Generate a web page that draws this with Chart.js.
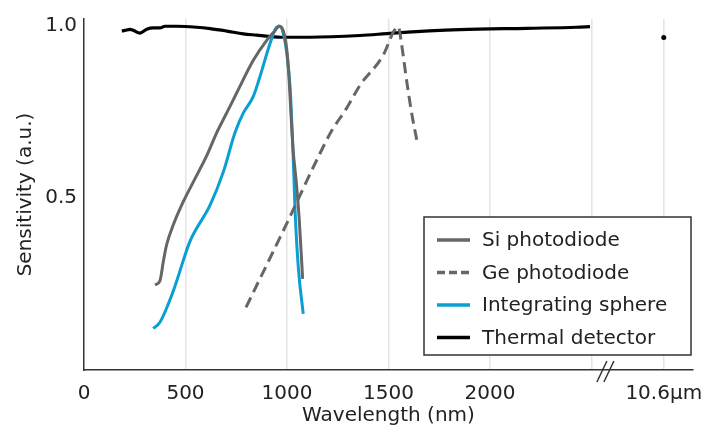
<!DOCTYPE html>
<html>
<head>
<meta charset="utf-8">
<script src="https://cdn.jsdelivr.net/npm/chart.js@4.4.1/dist/chart.umd.min.js"></script>
<style>
  html, body { margin: 0; padding: 0; background: #fff; }
  #wrap { width: 717px; height: 428px; position: relative; }
</style>
</head>
<body>
<div id="wrap"><canvas id="chart"></canvas></div>
<script>
// --- DATA ---
const siX = [350, 374, 391, 407, 440, 489, 538, 604, 654, 703, 752, 834, 900, 941, 961, 982, 999, 1010, 1020, 1030, 1045, 1060, 1077];
const siY = [0.247, 0.259, 0.316, 0.364, 0.422, 0.489, 0.546, 0.622, 0.690, 0.747, 0.805, 0.900, 0.958, 0.986, 1.0, 0.985, 0.93, 0.85, 0.74, 0.64, 0.55, 0.44, 0.265];

const geX = [798, 999, 1153, 1220, 1294, 1360, 1474, 1524, 1548, 1565, 1590, 1614, 1639];
const geY = [0.182, 0.426, 0.618, 0.695, 0.761, 0.828, 0.915, 0.982, 0.998, 0.944, 0.838, 0.747, 0.669];

const sphereX = [341, 374, 440, 522, 621, 686, 744, 785, 834, 867, 916, 949, 965, 982, 999, 1015, 1022, 1028, 1034, 1040, 1056, 1080];
const sphereY = [0.121, 0.139, 0.230, 0.374, 0.479, 0.575, 0.690, 0.747, 0.795, 0.853, 0.948, 0.996, 0.998, 0.977, 0.920, 0.824, 0.74, 0.66, 0.56, 0.46, 0.296, 0.163];

// last point is the 10.6 um reading, shown after the axis break
const thermalX = [186, 202, 227, 243, 276, 309, 341, 374, 399, 457, 555, 621, 703, 785, 851, 916, 982, 1113, 1360, 1522, 1852, 2181, 2427, 2493, null, 2856];
const thermalY = [0.985, 0.987, 0.990, 0.987, 0.979, 0.990, 0.994, 0.994, 0.999, 0.999, 0.996, 0.992, 0.985, 0.977, 0.973, 0.969, 0.967, 0.967, 0.972, 0.979, 0.989, 0.993, 0.996, 0.998, null, 0.966];

const xTicks = [0, 500, 1000, 1500, 2000, 2500, 2856];
const xTickLabels = ['0', '500', '1000', '1500', '2000', '', '10.6µm'];
const yTicks = [0.5, 1.0];
const axisBreak = 2566;

const FONT = "'DejaVu Sans', sans-serif";
const FSIZE = 20;
const TEXT = '#222';

function pts(xs, ys) {
    return xs.map((x, i) => ({ x: x, y: ys[i] }));
}

// --- PLUGINS ---
// legend box in the lower right of the plot
const boxLegend = {
    id: 'boxLegend',
    afterDraw(chart) {
        const c = chart.ctx;
        const left = 424, top = 217, w = 267, h = 138;
        c.save();
        c.fillStyle = '#fff';
        c.fillRect(left, top, w, h);
        c.strokeStyle = '#333';
        c.lineWidth = 1.5;
        c.strokeRect(left, top, w, h);
        c.font = FSIZE + 'px ' + FONT;
        c.textBaseline = 'middle';
        c.fillStyle = TEXT;
        chart.data.datasets.forEach((ds, i) => {
            const y = 240 + i * 32.5;
            c.beginPath();
            c.strokeStyle = ds.borderColor;
            c.lineWidth = 3.5;
            c.setLineDash(ds.borderDash ? [8, 4] : []);
            c.moveTo(437, y);
            c.lineTo(470, y);
            c.stroke();
            c.setLineDash([]);
            c.fillText(ds.label, 482, y + 1);
        });
        c.restore();
    }
};

// "//" break mark on the x axis
const breakMark = {
    id: 'breakMark',
    afterDraw(chart) {
        const c = chart.ctx;
        const xs = chart.scales.x;
        const px = xs.getPixelForValue(axisBreak);
        const py = chart.chartArea.bottom;
        c.save();
        c.strokeStyle = '#333';
        c.lineWidth = 1.5;
        [-3, 4].forEach(off => {
            c.beginPath();
            c.moveTo(px + off - 5, py + 12);
            c.lineTo(px + off + 5, py - 9);
            c.stroke();
        });
        c.restore();
    }
};

// --- CHART ---
const ctx = document.getElementById('chart').getContext('2d');
new Chart(ctx, {
    type: 'line',
    data: {
        datasets: [
            { label: 'Si photodiode', data: pts(siX, siY), borderColor: '#666666', borderWidth: 3 },
            { label: 'Ge photodiode', data: pts(geX, geY), borderColor: '#666666', borderWidth: 3, borderDash: [11, 6] },
            { label: 'Integrating sphere', data: pts(sphereX, sphereY), borderColor: '#0a9fd3', borderWidth: 3 },
            {
                label: 'Thermal detector', data: pts(thermalX, thermalY), borderColor: '#000', borderWidth: 3.2,
                pointRadius: c => c.dataIndex === thermalX.length - 1 ? 2.5 : 0,
                pointBackgroundColor: '#000', pointBorderWidth: 0
            }
        ]
    },
    options: {
        responsive: true,
        maintainAspectRatio: false,
        animation: false,
        spanGaps: false,
        layout: { padding: { top: 15, right: 24, left: 0, bottom: 0 } },
        elements: {
            point: { radius: 0 },
            line: { cubicInterpolationMode: 'monotone', fill: false }
        },
        plugins: { legend: { display: false }, tooltip: { enabled: false } },
        scales: {
            x: {
                type: 'linear',
                min: 0,
                max: 3000,
                afterBuildTicks: s => { s.ticks = xTicks.map(v => ({ value: v })); },
                afterFit: s => { s.height = 58; },
                ticks: {
                    autoSkip: false,
                    maxRotation: 0,
                    padding: 12,
                    color: TEXT,
                    font: { family: FONT, size: FSIZE },
                    callback: (v, i) => xTickLabels[i]
                },
                grid: {
                    drawTicks: false,
                    lineWidth: 1.5,
                    color: c => (c.tick && c.tick.value === 0) ? 'rgba(0,0,0,0)' : '#e4e4e4'
                },
                border: { color: '#333', width: 1.5 },
                title: {
                    display: true,
                    text: 'Wavelength (nm)',
                    color: TEXT,
                    font: { family: FONT, size: FSIZE },
                    padding: { top: 0, bottom: 0 }
                }
            },
            y: {
                min: 0,
                max: 1.02,
                afterBuildTicks: s => { s.ticks = yTicks.map(v => ({ value: v })); },
                afterFit: s => { s.width = 84; },
                ticks: {
                    padding: 7,
                    color: TEXT,
                    font: { family: FONT, size: FSIZE },
                    callback: v => v.toFixed(1)
                },
                grid: { display: false, drawTicks: false },
                border: { color: '#333', width: 1.5 },
                title: {
                    display: true,
                    text: 'Sensitivity (a.u.)',
                    color: TEXT,
                    font: { family: FONT, size: FSIZE },
                    padding: { top: 14, bottom: 0 }
                }
            }
        }
    },
    plugins: [boxLegend, breakMark]
});
</script>
</body>
</html>
